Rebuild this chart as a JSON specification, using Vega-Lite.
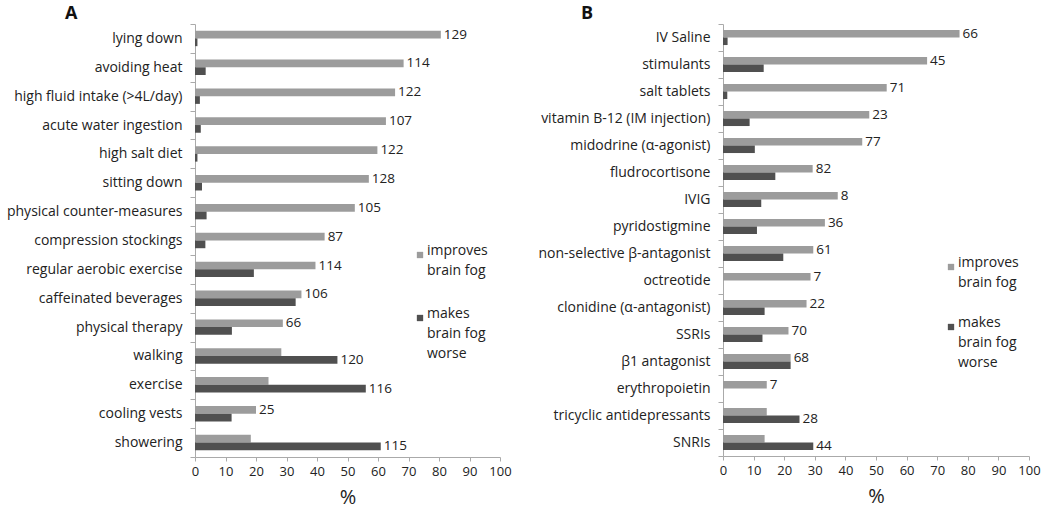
{
  "$schema": "https://vega.github.io/schema/vega-lite/v6.json",
  "background": "white",
  "padding": {"left": 5, "top": 5, "right": 5, "bottom": 5},
  "config": {
    "font": "Open Sans",
    "view": {"stroke": null},
    "axis": {
      "labelFont": "Open Sans", "labelFontSize": 13, "labelColor": "#222",
      "domainColor": "#aaa", "tickColor": "#aaa", "grid": false
    },
    "legend": {"labelFont": "Open Sans", "labelFontSize": 14, "labelColor": "#222"},
    "style": {"guide-label": {"lineHeight": 20}}
  },
  "datasets": {
    "a": [
      {"item": "lying down", "series": "improves", "pct": 80.6, "n": 129},
      {"item": "lying down", "series": "worse", "pct": 0.8, "n": 129},
      {"item": "avoiding heat", "series": "improves", "pct": 68.4, "n": 114},
      {"item": "avoiding heat", "series": "worse", "pct": 3.5, "n": 114},
      {"item": "high fluid intake (>4L/day)", "series": "improves", "pct": 65.6, "n": 122},
      {"item": "high fluid intake (>4L/day)", "series": "worse", "pct": 1.6, "n": 122},
      {"item": "acute water ingestion", "series": "improves", "pct": 62.6, "n": 107},
      {"item": "acute water ingestion", "series": "worse", "pct": 1.9, "n": 107},
      {"item": "high salt diet", "series": "improves", "pct": 59.8, "n": 122},
      {"item": "high salt diet", "series": "worse", "pct": 0.8, "n": 122},
      {"item": "sitting down", "series": "improves", "pct": 57.0, "n": 128},
      {"item": "sitting down", "series": "worse", "pct": 2.3, "n": 128},
      {"item": "physical counter-measures", "series": "improves", "pct": 52.4, "n": 105},
      {"item": "physical counter-measures", "series": "worse", "pct": 3.8, "n": 105},
      {"item": "compression stockings", "series": "improves", "pct": 42.5, "n": 87},
      {"item": "compression stockings", "series": "worse", "pct": 3.4, "n": 87},
      {"item": "regular aerobic exercise", "series": "improves", "pct": 39.5, "n": 114},
      {"item": "regular aerobic exercise", "series": "worse", "pct": 19.3, "n": 114},
      {"item": "caffeinated beverages", "series": "improves", "pct": 34.9, "n": 106},
      {"item": "caffeinated beverages", "series": "worse", "pct": 33.0, "n": 106},
      {"item": "physical therapy", "series": "improves", "pct": 28.8, "n": 66},
      {"item": "physical therapy", "series": "worse", "pct": 12.1, "n": 66},
      {"item": "walking", "series": "improves", "pct": 28.3, "n": 120},
      {"item": "walking", "series": "worse", "pct": 46.7, "n": 120},
      {"item": "exercise", "series": "improves", "pct": 24.1, "n": 116},
      {"item": "exercise", "series": "worse", "pct": 56.0, "n": 116},
      {"item": "cooling vests", "series": "improves", "pct": 20.0, "n": 25},
      {"item": "cooling vests", "series": "worse", "pct": 12.0, "n": 25},
      {"item": "showering", "series": "improves", "pct": 18.3, "n": 115},
      {"item": "showering", "series": "worse", "pct": 60.9, "n": 115}
    ],
    "b": [
      {"item": "IV Saline", "series": "improves", "pct": 77.3, "n": 66},
      {"item": "IV Saline", "series": "worse", "pct": 1.5, "n": 66},
      {"item": "stimulants", "series": "improves", "pct": 66.7, "n": 45},
      {"item": "stimulants", "series": "worse", "pct": 13.3, "n": 45},
      {"item": "salt tablets", "series": "improves", "pct": 53.5, "n": 71},
      {"item": "salt tablets", "series": "worse", "pct": 1.4, "n": 71},
      {"item": "vitamin B-12 (IM injection)", "series": "improves", "pct": 47.8, "n": 23},
      {"item": "vitamin B-12 (IM injection)", "series": "worse", "pct": 8.7, "n": 23},
      {"item": "midodrine (α-agonist)", "series": "improves", "pct": 45.5, "n": 77},
      {"item": "midodrine (α-agonist)", "series": "worse", "pct": 10.4, "n": 77},
      {"item": "fludrocortisone", "series": "improves", "pct": 29.3, "n": 82},
      {"item": "fludrocortisone", "series": "worse", "pct": 17.1, "n": 82},
      {"item": "IVIG", "series": "improves", "pct": 37.5, "n": 8},
      {"item": "IVIG", "series": "worse", "pct": 12.5, "n": 8},
      {"item": "pyridostigmine", "series": "improves", "pct": 33.3, "n": 36},
      {"item": "pyridostigmine", "series": "worse", "pct": 11.1, "n": 36},
      {"item": "non-selective β-antagonist", "series": "improves", "pct": 29.5, "n": 61},
      {"item": "non-selective β-antagonist", "series": "worse", "pct": 19.7, "n": 61},
      {"item": "octreotide", "series": "improves", "pct": 28.6, "n": 7},
      {"item": "octreotide", "series": "worse", "pct": 0, "n": 7},
      {"item": "clonidine (α-antagonist)", "series": "improves", "pct": 27.3, "n": 22},
      {"item": "clonidine (α-antagonist)", "series": "worse", "pct": 13.6, "n": 22},
      {"item": "SSRIs", "series": "improves", "pct": 21.4, "n": 70},
      {"item": "SSRIs", "series": "worse", "pct": 12.9, "n": 70},
      {"item": "β1 antagonist", "series": "improves", "pct": 22.1, "n": 68},
      {"item": "β1 antagonist", "series": "worse", "pct": 22.1, "n": 68},
      {"item": "erythropoietin", "series": "improves", "pct": 14.3, "n": 7},
      {"item": "erythropoietin", "series": "worse", "pct": 0, "n": 7},
      {"item": "tricyclic antidepressants", "series": "improves", "pct": 14.3, "n": 28},
      {"item": "tricyclic antidepressants", "series": "worse", "pct": 25.0, "n": 28},
      {"item": "SNRIs", "series": "improves", "pct": 13.6, "n": 44},
      {"item": "SNRIs", "series": "worse", "pct": 29.5, "n": 44}
    ]
  },
  "spacing": 223,
  "bounds": "flush",
  "resolve": {
    "scale": {"x": "independent", "y": "independent", "yOffset": "independent", "color": "independent"},
    "legend": {"color": "independent"}
  },
  "hconcat": [
    {
      "width": 305,
      "height": 433,
      "title": {"text": "A", "anchor": "start", "frame": "bounds", "fontSize": 18, "fontWeight": "bold", "color": "#111", "dx": 60, "offset": -6},
      "data": {"name": "a"},
      "encoding": {
        "y": {
          "field": "item", "type": "nominal", "sort": null,
          "scale": {"paddingInner": 0, "paddingOuter": 0},
          "axis": {"title": null, "tickBand": "extent", "tickSize": 5, "labelPadding": 8, "labelFontSize": 14, "labelLimit": 300, "minExtent": 190, "maxExtent": 190}
        },
        "yOffset": {
          "field": "series", "type": "nominal", "sort": ["improves", "worse"],
          "scale": {"paddingInner": 0, "paddingOuter": 0.87}
        },
        "x": {
          "field": "pct", "type": "quantitative",
          "scale": {"domain": [0, 100]},
          "axis": {"values": [0, 10, 20, 30, 40, 50, 60, 70, 80, 90, 100], "labelOverlap": false, "labelFlush": false, "title": "%", "titleFontSize": 20, "titleFontWeight": "normal", "titleColor": "#222", "titlePadding": 9, "labelPadding": 4, "tickSize": 4}
        }
      },
      "layer": [
        {
          "mark": {"type": "bar"},
          "encoding": {
            "color": {
              "field": "series", "type": "nominal",
              "scale": {"domain": ["improves", "worse"], "range": ["#9c9c9c", "#505050"]},
              "legend": {
                "orient": "none", "legendX": 218, "legendY": 224, "title": null,
                "symbolType": "square", "symbolSize": 40, "symbolStrokeWidth": 0,
                "labelBaseline": "alphabetic", "labelOffset": 0,
                "labelExpr": "datum.label == 'improves' ? ['improves', 'brain fog'] : ['makes', 'brain fog', 'worse']",
                "rowPadding": 29
              }
            }
          }
        },
        {
          "transform": [
            {"window": [{"op": "row_number", "as": "rk"}], "groupby": ["item"], "sort": [{"field": "pct", "order": "descending"}]},
            {"filter": "datum.rk == 1"}
          ],
          "mark": {"type": "text", "align": "left", "dx": 3, "fontSize": 13.5, "color": "#222"},
          "encoding": {
            "text": {"field": "n", "type": "quantitative"}
          }
        }
      ]
    },
    {
      "width": 306,
      "height": 432,
      "title": {"text": "B", "anchor": "start", "frame": "bounds", "fontSize": 18, "fontWeight": "bold", "color": "#111", "dx": 43, "offset": -6},
      "data": {"name": "b"},
      "encoding": {
        "y": {
          "field": "item", "type": "nominal", "sort": null,
          "scale": {"paddingInner": 0, "paddingOuter": 0},
          "axis": {"title": null, "tickBand": "extent", "tickSize": 5, "labelPadding": 8, "labelFontSize": 14, "labelLimit": 300, "minExtent": 180, "maxExtent": 180}
        },
        "yOffset": {
          "field": "series", "type": "nominal", "sort": ["improves", "worse"],
          "scale": {"paddingInner": 0, "paddingOuter": 0.79}
        },
        "x": {
          "field": "pct", "type": "quantitative",
          "scale": {"domain": [0, 100]},
          "axis": {"values": [0, 10, 20, 30, 40, 50, 60, 70, 80, 90, 100], "labelOverlap": false, "labelFlush": false, "title": "%", "titleFontSize": 20, "titleFontWeight": "normal", "titleColor": "#222", "titlePadding": 9, "labelPadding": 4, "tickSize": 4}
        }
      },
      "layer": [
        {
          "mark": {"type": "bar"},
          "encoding": {
            "color": {
              "field": "series", "type": "nominal",
              "scale": {"domain": ["improves", "worse"], "range": ["#9c9c9c", "#505050"]},
              "legend": {
                "orient": "none", "legendX": 221, "legendY": 236, "title": null,
                "symbolType": "square", "symbolSize": 40, "symbolStrokeWidth": 0,
                "labelBaseline": "alphabetic", "labelOffset": 0,
                "labelExpr": "datum.label == 'improves' ? ['improves', 'brain fog'] : ['makes', 'brain fog', 'worse']",
                "rowPadding": 26
              }
            }
          }
        },
        {
          "transform": [
            {"window": [{"op": "row_number", "as": "rk"}], "groupby": ["item"], "sort": [{"field": "pct", "order": "descending"}]},
            {"filter": "datum.rk == 1"}
          ],
          "mark": {"type": "text", "align": "left", "dx": 3, "fontSize": 13.5, "color": "#222"},
          "encoding": {
            "text": {"field": "n", "type": "quantitative"}
          }
        }
      ]
    }
  ]
}
